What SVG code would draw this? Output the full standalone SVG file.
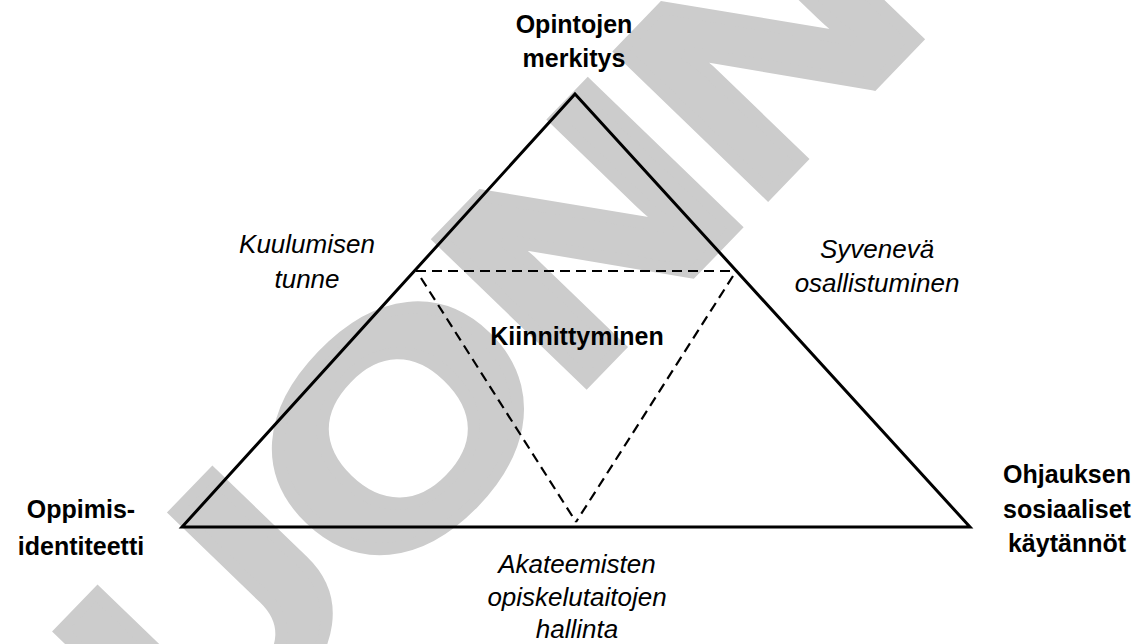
<svg xmlns="http://www.w3.org/2000/svg" width="1138" height="644" viewBox="0 0 1138 644">
  <style>
    .bg { fill: #ffffff; }
    .wm { font-family: "Liberation Sans", Arial, sans-serif; font-weight: bold; font-size: 299px; fill: #cccccc; stroke: #cccccc; stroke-width: 11; stroke-linejoin: miter; }
    .solid { fill: none; stroke: #000000; stroke-width: 3; stroke-linejoin: miter; }
    .dash { fill: none; stroke: #000000; stroke-width: 2.2; stroke-dasharray: 10 6; }
    .b { font-family: "Liberation Sans", Arial, sans-serif; font-weight: bold; font-size: 25px; fill: #000000; text-anchor: middle; }
    .i { font-family: "Liberation Sans", Arial, sans-serif; font-style: italic; font-size: 26px; fill: #000000; text-anchor: middle; }
  </style>
  <rect class="bg" x="0" y="0" width="1138" height="644"/>

  <g id="watermark">
    <text class="wm" transform="translate(40,948) rotate(-46) scale(1.21,1)" x="0" y="0">LUONNOS</text>
  </g>

  <g id="connectors">
    <polygon id="main-triangle" class="solid" points="575,94 970,527 182,527"/>
    <line class="dash" x1="416" y1="271" x2="735" y2="271"/>
    <line class="dash" x1="421" y1="278" x2="576" y2="522"/>
    <line class="dash" x1="733" y1="276" x2="576" y2="522"/>
  </g>

  <g id="node-top">
    <text class="b" x="574" y="33">Opintojen</text>
    <text class="b" x="574" y="67">merkitys</text>
  </g>

  <g id="node-left">
    <text class="b" x="81" y="518">Oppimis-</text>
    <text class="b" x="81" y="555">identiteetti</text>
  </g>

  <g id="node-right">
    <text class="b" x="1067" y="483">Ohjauksen</text>
    <text class="b" x="1067" y="518">sosiaaliset</text>
    <text class="b" x="1067" y="552">käytännöt</text>
  </g>

  <g id="node-center">
    <text class="b" x="577" y="345">Kiinnittyminen</text>
  </g>

  <g id="label-left-side">
    <text class="i" x="307" y="253">Kuulumisen</text>
    <text class="i" x="307" y="288">tunne</text>
  </g>

  <g id="label-right-side">
    <text class="i" x="877" y="258">Syvenevä</text>
    <text class="i" x="877" y="292">osallistuminen</text>
  </g>

  <g id="label-bottom">
    <text class="i" x="577" y="573">Akateemisten</text>
    <text class="i" x="577" y="606">opiskelutaitojen</text>
    <text class="i" x="577" y="638">hallinta</text>
  </g>
</svg>
